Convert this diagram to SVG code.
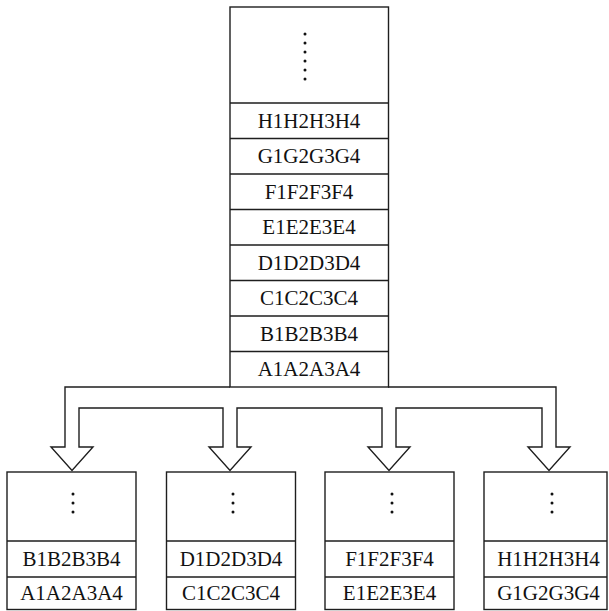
<svg xmlns="http://www.w3.org/2000/svg" width="609" height="611" viewBox="0 0 609 611">
  <style>
    .box { fill: #ffffff; stroke: #1e1e1e; stroke-width: 1.4; }
    .sep { stroke: #1e1e1e; stroke-width: 1.4; fill: none; }
    .lbl { font-family: "Liberation Serif", "Times New Roman", serif; font-size: 21px; fill: #111111; text-anchor: middle; }
    .dot { fill: #111111; }
    .fork { fill: #ffffff; stroke: #1e1e1e; stroke-width: 1.4; stroke-linejoin: miter; }
  </style>
  <defs>
    <g id="dots3">
      <circle class="dot" cx="0" cy="0" r="1.5"/>
      <circle class="dot" cx="0" cy="9" r="1.5"/>
      <circle class="dot" cx="0" cy="18" r="1.5"/>
    </g>
  </defs>
  <rect width="609" height="611" fill="#ffffff"/>

  <!-- connectors: one fork-shaped outlined arrow splitting into four -->
  <g id="connectors">
    <path class="fork" d="M 230 387 H 65 V 447 H 51 L 72 470.5 L 93 447 H 79 V 408 H 223 V 447 H 209 L 230 470.5 L 251 447 H 237 V 408 H 382 V 447 H 368 L 389 470.5 L 410 447 H 396 V 408 H 542 V 447 H 528 L 549 470.5 L 570 447 H 556 V 387 H 388"/>
  </g>

  <!-- main stack -->
  <g id="stack">
    <rect class="box" x="230" y="7" width="158.5" height="380"/>
    <path class="sep" d="M230 103 H388.5 M230 138.5 H388.5 M230 174 H388.5 M230 209.5 H388.5 M230 245 H388.5 M230 280.5 H388.5 M230 316 H388.5 M230 351.5 H388.5"/>
    <circle class="dot" cx="305" cy="34" r="1.5"/>
    <circle class="dot" cx="305" cy="43" r="1.5"/>
    <circle class="dot" cx="305" cy="52" r="1.5"/>
    <circle class="dot" cx="305" cy="61" r="1.5"/>
    <circle class="dot" cx="305" cy="70" r="1.5"/>
    <circle class="dot" cx="305" cy="79" r="1.5"/>
    <text class="lbl" x="309" y="127.5">H1H2H3H4</text>
    <text class="lbl" x="309" y="163">G1G2G3G4</text>
    <text class="lbl" x="309" y="198.5">F1F2F3F4</text>
    <text class="lbl" x="309" y="234">E1E2E3E4</text>
    <text class="lbl" x="309" y="269.5">D1D2D3D4</text>
    <text class="lbl" x="309" y="305">C1C2C3C4</text>
    <text class="lbl" x="309" y="340.5">B1B2B3B4</text>
    <text class="lbl" x="309" y="376">A1A2A3A4</text>
  </g>

  <!-- four receiving blocks -->
  <g id="block1">
    <rect class="box" x="7" y="472" width="129" height="137.5"/>
    <path class="sep" d="M7 541 H136 M7 577 H136"/>
    <use href="#dots3" x="73" y="494"/>
    <text class="lbl" x="71.5" y="565.5">B1B2B3B4</text>
    <text class="lbl" x="71.5" y="599.5">A1A2A3A4</text>
  </g>
  <g id="block2">
    <rect class="box" x="166.5" y="472" width="129" height="137.5"/>
    <path class="sep" d="M166.5 541 H295.5 M166.5 577 H295.5"/>
    <use href="#dots3" x="233" y="494"/>
    <text class="lbl" x="231" y="565.5">D1D2D3D4</text>
    <text class="lbl" x="231" y="599.5">C1C2C3C4</text>
  </g>
  <g id="block3">
    <rect class="box" x="325" y="472" width="129" height="137.5"/>
    <path class="sep" d="M325 541 H454 M325 577 H454"/>
    <use href="#dots3" x="392" y="494"/>
    <text class="lbl" x="389.5" y="565.5">F1F2F3F4</text>
    <text class="lbl" x="389.5" y="599.5">E1E2E3E4</text>
  </g>
  <g id="block4">
    <rect class="box" x="484" y="472" width="123" height="137.5"/>
    <path class="sep" d="M484 541 H607 M484 577 H607"/>
    <use href="#dots3" x="552" y="494"/>
    <text class="lbl" x="548.5" y="565.5">H1H2H3H4</text>
    <text class="lbl" x="548.5" y="599.5">G1G2G3G4</text>
  </g>
</svg>
